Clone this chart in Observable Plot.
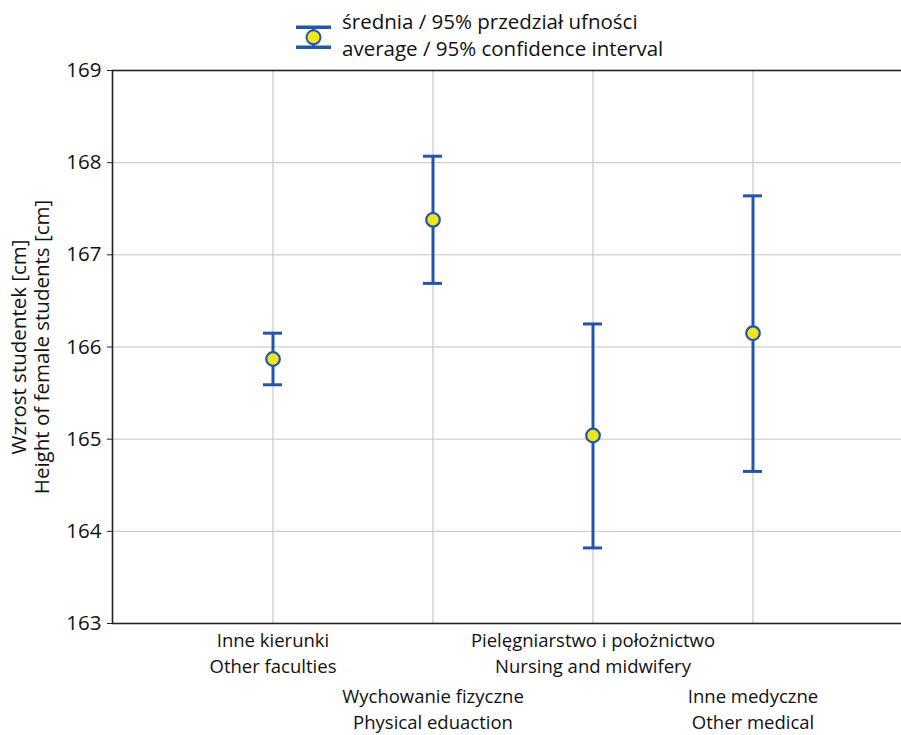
<!DOCTYPE html>
<html>
<head>
<meta charset="utf-8">
<script src="https://cdn.jsdelivr.net/npm/d3@7"></script>
<script src="https://cdn.jsdelivr.net/npm/@observablehq/plot@0.6"></script>
<style>
  html, body { margin: 0; padding: 0; background: #fff; }
  #wrap { position: relative; width: 901px; height: 735px; overflow: hidden; font-family: "Open Sans", sans-serif; }
  #legendSym { position: absolute; left: 293px; top: 14px; }
  #legendText { position: absolute; left: 342px; top: 7.5px; font-size: 20.5px; color: #111; line-height: 27px; white-space: nowrap; }
</style>
</head>
<body>
<div id="wrap">
  <svg id="legendSym" width="42" height="40" viewBox="0 0 42 40">
    <line x1="20.5" y1="13.3" x2="20.5" y2="33.3" stroke="#2356a8" stroke-width="3"/>
    <line x1="3" y1="13.3" x2="38" y2="13.3" stroke="#2356a8" stroke-width="3.5"/>
    <line x1="3" y1="33.3" x2="38" y2="33.3" stroke="#2356a8" stroke-width="3.5"/>
    <circle cx="20.5" cy="23.3" r="7" fill="#ebe61e" stroke="#2356a8" stroke-width="2"/>
  </svg>
  <div id="legendText"><div>średnia / 95% przedział ufności</div><div>average / 95% confidence interval</div></div>
</div>
<script>
const categories = ["Inne kierunki", "Wychowanie fizyczne", "Pielęgniarstwo i położnictwo", "Inne medyczne"];
const categoriesEn = ["Other faculties", "Physical eduaction", "Nursing and midwifery", "Other medical"];
const means = [165.87, 167.38, 165.04, 166.15];
const lower = [165.59, 166.69, 163.82, 164.65];
const upper = [166.15, 168.07, 166.25, 167.64];
const yTicks = [163, 164, 165, 166, 167, 168, 169];
const yLabel = ["Wzrost studentek [cm]", "Height of female students [cm]"];

const data = categories.map((c, i) => ({cat: c, en: categoriesEn[i], mean: means[i], lo: lower[i], hi: upper[i]}));
const labelOf = new Map(data.map(d => [d.cat, d.cat + "\n" + d.en]));
const row1 = [categories[0], categories[2]];
const row2 = [categories[1], categories[3]];

const blue = "#2356a8";
const yellow = "#ebe61e";

const chart = Plot.plot({
  width: 901,
  height: 735,
  marginLeft: 112,
  marginRight: -12,
  marginTop: 70,
  marginBottom: 112,
  style: {fontFamily: "Open Sans, sans-serif", fontSize: "19px", color: "#111", background: "transparent"},
  x: {type: "band", domain: categories, paddingInner: 0.8814, paddingOuter: 0.9407},
  y: {domain: [163, 169]},
  marks: [
    Plot.gridX(categories, {stroke: "#bdbdbd", strokeOpacity: 1, strokeWidth: 1}),
    Plot.gridY(yTicks, {stroke: "#c4c4c4", strokeOpacity: 1, strokeWidth: 1}),
    Plot.axisY(yTicks, {tickSize: 5, tickPadding: 6, fontSize: 20.5, label: null, stroke: "#222", tickFormat: d3.format("d")}),
    Plot.axisX(row1, {tickSize: 0, tickPadding: 4, fontSize: 18.5, lineHeight: 1.45, label: null, tickFormat: d => labelOf.get(d)}),
    Plot.axisX(row2, {tickSize: 0, tickPadding: 60, fontSize: 18.5, lineHeight: 1.45, label: null, tickFormat: d => labelOf.get(d)}),
    Plot.frame({stroke: "#222", strokeWidth: 1.6}),
    Plot.text([yLabel.join("\n")], {frameAnchor: "left", dx: -82.5, rotate: -90, textAnchor: "middle", lineAnchor: "middle", fontSize: 20.5, lineHeight: 1.12, fill: "#111"}),
    Plot.ruleX(data, {x: "cat", y1: "lo", y2: "hi", stroke: blue, strokeWidth: 3}),
    Plot.tickY(data, {x: "cat", y: "lo", stroke: blue, strokeWidth: 3}),
    Plot.tickY(data, {x: "cat", y: "hi", stroke: blue, strokeWidth: 3}),
    Plot.dot(data, {x: "cat", y: "mean", r: 6.8, fill: yellow, fillOpacity: 1, stroke: blue, strokeWidth: 2.2})
  ]
});
document.getElementById("wrap").prepend(chart);
</script>
</body>
</html>
